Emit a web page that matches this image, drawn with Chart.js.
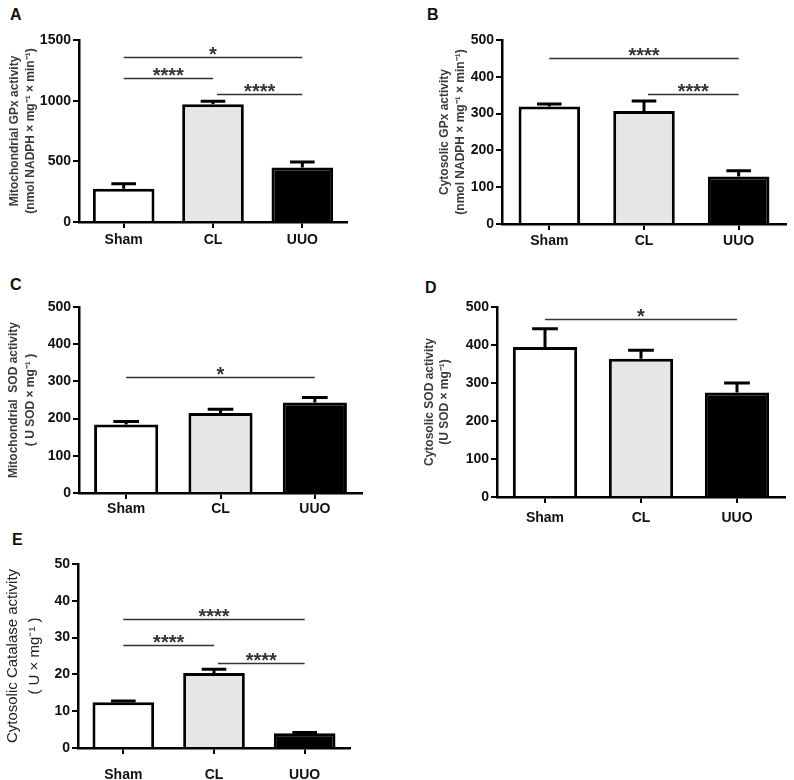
<!DOCTYPE html>
<html><head><meta charset="utf-8">
<script src="https://cdn.jsdelivr.net/npm/chart.js@4.4.1/dist/chart.umd.min.js"></script>
<style>
body{margin:0;background:#fff;width:794px;height:780px;position:relative;overflow:hidden;font-family:"Liberation Sans",Arial,sans-serif}
canvas{position:absolute}
.lbl{position:absolute;font-weight:bold;font-size:16px;color:#111;line-height:16px}
</style></head><body>
<div class="lbl" style="left:10px;top:7px">A</div>
<div class="lbl" style="left:427px;top:7px">B</div>
<div class="lbl" style="left:10px;top:277px">C</div>
<div class="lbl" style="left:425px;top:280px">D</div>
<div class="lbl" style="left:12px;top:532px">E</div>
<canvas id="cA" width="400" height="260" style="left:0;top:0"></canvas>
<canvas id="cB" width="394" height="260" style="left:400px;top:0"></canvas>
<canvas id="cC" width="400" height="270" style="left:0;top:260px"></canvas>
<canvas id="cD" width="394" height="270" style="left:400px;top:260px"></canvas>
<canvas id="cE" width="400" height="260" style="left:0;top:520px"></canvas>
<script>
// ---- data ----
const categories = ['Sham', 'CL', 'UUO'];

const mitoGPx = [275, 971, 449];
const mitoGPxSEM = [41, 25, 46];
const cytoGPx = [319, 307, 129];
const cytoGPxSEM = [7, 27, 16];
const mitoSOD = [184, 215, 243];
const mitoSODSEM = [8, 10, 14];
const cytoSOD = [395, 364, 275];
const cytoSODSEM = [48, 22, 25];
const cytoCat = [12.4, 20.4, 4.0];
const cytoCatSEM = [0.4, 1.0, 0.2];

// significance brackets: [fromIndex, toIndex, yValue, label]
const sigA = [[0, 2, 1362, '*'], [0, 1, 1183, '****'], [1, 2, 1051, '****']];
const sigB = [[0, 2, 452, '****'], [1, 2, 352, '****']];
const sigC = [[0, 2, 312, '*']];
const sigD = [[0, 2, 469, '*']];
const sigE = [[0, 2, 35, '****'], [0, 1, 27.9, '****'], [1, 2, 23, '****']];

const ticksA = [0, 500, 1000, 1500];
const ticks500 = [0, 100, 200, 300, 400, 500];
const ticksE = [0, 10, 20, 30, 40, 50];

const titleA = ['Mitochondrial GPx activity', '(nmol NADPH \u00d7 mg\u207b\u00b9 \u00d7 min\u207b\u00b9)'];
const titleB = ['Cytosolic GPx activity', '(nmol NADPH \u00d7 mg\u207b\u00b9 \u00d7 min\u207b\u00b9)'];
const titleC = ['Mitochondrial  SOD activity', '( U SOD \u00d7 mg\u207b\u00b9 )'];
const titleD = ['Cytosolic SOD activity', '(U SOD \u00d7 mg\u207b\u00b9)'];
const titleE = ['Cytosolic Catalase activity', '( U \u00d7 mg\u207b\u00b9 )'];

const barColors = ['#ffffff', '#e6e6e6', '#000000'];
const FONT = '"Liberation Sans", Arial, sans-serif';

// ---- plugins ----
const errPlugin = {
  id: 'errbars',
  afterDatasetsDraw(chart) {
    const ds = chart.data.datasets[0];
    const meta = chart.getDatasetMeta(0);
    const y = chart.scales.y;
    const ctx = chart.ctx;
    ctx.save();
    ctx.strokeStyle = '#000';
    ctx.lineWidth = 3;
    meta.data.forEach((bar, i) => {
      const top = y.getPixelForValue(ds.data[i] + ds.errors[i]);
      const cw = bar.width * 0.2;
      ctx.beginPath();
      ctx.moveTo(bar.x, bar.y);
      ctx.lineTo(bar.x, top);
      ctx.moveTo(bar.x - cw, top);
      ctx.lineTo(bar.x + cw, top);
      ctx.stroke();
    });
    ctx.restore();
  }
};
const sigPlugin = {
  id: 'sig',
  afterDraw(chart, args, opts) {
    const x = chart.scales.x, y = chart.scales.y, ctx = chart.ctx;
    ctx.save();
    (opts.lines || []).forEach(([a, b, v, lab]) => {
      const x1 = x.getPixelForValue(a) + (a > 0 ? 4 : 0);
      const x2 = x.getPixelForValue(b);
      const yy = Math.round(y.getPixelForValue(v)) + 0.5;
      ctx.strokeStyle = '#333';
      ctx.lineWidth = 1.5;
      ctx.beginPath();
      ctx.moveTo(x1, yy); ctx.lineTo(x2, yy); ctx.stroke();
      ctx.fillStyle = '#333';
      ctx.font = 'bold 20px ' + FONT;
      ctx.textAlign = 'center';
      ctx.textBaseline = 'alphabetic';
      ctx.fillText(lab, (x1 + x2) / 2, yy + 3);
    });
    ctx.restore();
  }
};

function makeChart(id, values, errs, sig, tickVals, title, L) {
  const max = tickVals[tickVals.length - 1];
  new Chart(document.getElementById(id), {
    type: 'bar',
    data: {
      labels: categories,
      datasets: [{
        data: values, errors: errs,
        backgroundColor: barColors, borderColor: '#000', borderWidth: 3,
        borderSkipped: 'start',
        categoryPercentage: 1, barPercentage: L.barPct
      }]
    },
    options: {
      responsive: false, animation: false, devicePixelRatio: 1,
      layout: { padding: { top: L.padTop, right: L.padRight, left: 0, bottom: 0 } },
      plugins: { legend: { display: false }, tooltip: { enabled: false }, sig: { lines: sig } },
      scales: {
        x: {
          offset: true,
          grid: { display: true, drawOnChartArea: false, offset: false, color: '#000', lineWidth: 2, tickLength: 6 },
          border: { display: true, color: '#000', width: 2.5 },
          ticks: { color: '#111', font: { family: FONT, size: 14, weight: 'bold' }, padding: L.xPad, maxRotation: 0 },
          afterFit: s => { s.height = L.xHeight; }
        },
        y: {
          min: 0, max: max,
          afterBuildTicks: s => { s.ticks = tickVals.map(v => ({ value: v })); },
          grid: { display: true, drawOnChartArea: false, color: '#000', lineWidth: 2, tickLength: 6 },
          border: { display: true, color: '#000', width: 2.5 },
          ticks: { color: '#111', font: { family: FONT, size: 14, weight: 'bold' }, padding: 2, callback: v => String(v) },
          title: {
            display: true, text: title, color: L.titleColor || '#3a3a3a',
            font: { family: FONT, size: L.titleSize, weight: L.titleWeight, lineHeight: L.titleLH },
            padding: { top: L.titlePad, bottom: 0 }
          },
          afterFit: s => { s.width = L.yWidth; }
        }
      }
    },
    plugins: [errPlugin, sigPlugin]
  });
}

makeChart('cA', mitoGPx, mitoGPxSEM, sigA, ticksA, titleA,
  { padTop: 40, padRight: 53, yWidth: 79, xHeight: 38, xPad: 4, barPct: 0.69, titleSize: 12, titleWeight: 'bold', titleLH: 16 / 12, titlePad: 7 });
makeChart('cB', cytoGPx, cytoGPxSEM, sigB, ticks500, titleB,
  { padTop: 40, padRight: 8, yWidth: 102, xHeight: 36, xPad: 3, barPct: 0.65, titleSize: 12, titleWeight: 'bold', titleLH: 16 / 12, titlePad: 37 });
makeChart('cC', mitoSOD, mitoSODSEM, sigC, ticks500, titleC,
  { padTop: 47, padRight: 38, yWidth: 79, xHeight: 37, xPad: 2, barPct: 0.68, titleSize: 12, titleWeight: 'bold', titleLH: 17 / 12, titlePad: 5 });
makeChart('cD', cytoSOD, cytoSODSEM, sigD, ticks500, titleD,
  { padTop: 47, padRight: 9, yWidth: 97, xHeight: 33, xPad: 7, barPct: 0.67, titleSize: 12, titleWeight: 'bold', titleLH: 15 / 12, titlePad: 22 });
makeChart('cE', cytoCat, cytoCatSEM, sigE, ticksE, titleE,
  { padTop: 44, padRight: 50, yWidth: 78, xHeight: 32, xPad: 13, barPct: 0.68, titleSize: 15, titleWeight: 'normal', titleLH: 22 / 15, titlePad: 2, titleColor: '#222' });
</script>
</body></html>
